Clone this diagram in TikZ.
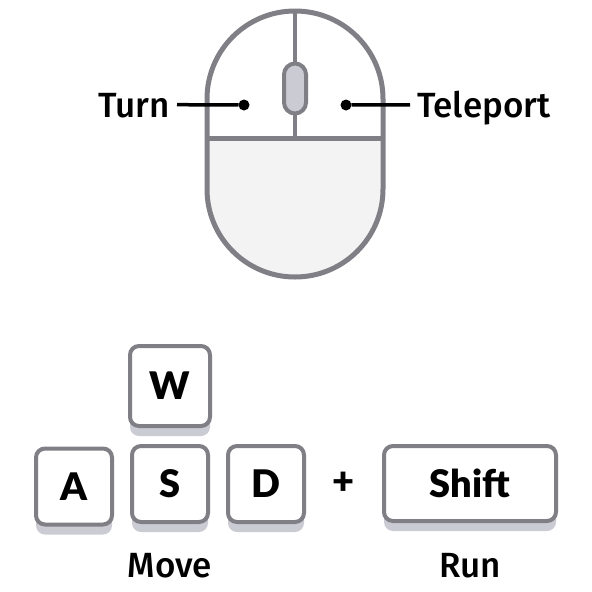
\documentclass[tikz,border=0pt]{standalone}
\usepackage{fontspec}
\setmainfont{Fira Sans Medium}
\newfontfamily\keyfont{Lato Black}
\usetikzlibrary{shadows}
\definecolor{mousegray}{HTML}{807F86}
\definecolor{keyshade}{HTML}{CBCBD3}
\definecolor{palmfill}{HTML}{F3F3F3}
\tikzset{
	keybox/.style={draw=mousegray, line width=4pt, fill=white, rounded corners=9pt, minimum height=80pt,
		font=\keyfont\fontsize{38}{38}\selectfont, inner sep=0pt, outer sep=0pt,
		general shadow={fill=keyshade, shadow yshift=-10pt}},
	caption/.style={font=\fontsize{35}{35}\selectfont, text height=25pt, text depth=0pt, inner ysep=0pt, inner xsep=7pt, outer sep=0pt},
	dotmark/.style={circle, fill=black, minimum size=11pt, inner sep=0pt, outer sep=0pt},
	leader/.style={line width=3.5pt}
}
\begin{document}
\begin{tikzpicture}[x=1pt, y=-1pt]
	\useasboundingbox (0,0) rectangle (592,592);

	% mouse
	\fill[palmfill] (207,138) -- (383,138) -- (383,189) arc[start angle=0, end angle=-180, radius=88pt] -- cycle;
	\path
	(295,144) node[draw=mousegray, line width=5pt, rounded corners=87.9pt, minimum width=176pt, minimum height=266pt, inner sep=0pt, outer sep=0pt] (mouse) {}
	(295,138) coordinate (split)
	(207,138) coordinate (splitl)
	(383,138) coordinate (splitr)
	(295,88.5) node[draw=mousegray, line width=4pt, fill=keyshade, rounded corners=11pt, minimum width=22pt, minimum height=50pt, inner sep=0pt, outer sep=0pt] (wheel) {};
	\draw[mousegray, line width=5pt] (splitl) -- (splitr);
	\draw[mousegray, line width=3.5pt] (mouse.north) -- (wheel.north);
	\draw[mousegray, line width=3.5pt] (wheel.south) -- (split);

	% buttons
	\path
	(244,105) node[dotmark] (turndot) {}
	(346,105) node[dotmark] (teleportdot) {}
	(177,104.5) node[caption, anchor=east] (turn) {Turn}
	(410,104.5) node[caption, anchor=west] (teleport) {Teleport};
	\draw[leader] (turn) -- (turndot);
	\draw[leader] (teleport) -- (teleportdot);

	% keys
	\path
	(170,386) node[keybox, minimum width=80pt] (w) {W}
	(74,486.5) node[keybox, minimum width=76pt, minimum height=76pt] (a) {A}
	(170,484) node[keybox, minimum width=76pt, minimum height=76pt] (s) {S}
	(266,484) node[keybox, minimum width=76pt, minimum height=76pt] (d) {D}
	(470,483.5) node[keybox, minimum width=172pt, minimum height=75pt] (shift) {Shift}
	(344,483) node[font=\keyfont\fontsize{38}{38}\selectfont, inner sep=0pt] (plus) {+}
	(170,565) node[caption] (move) {Move}
	(470,565) node[caption] (run) {Run};
\end{tikzpicture}
\end{document}
